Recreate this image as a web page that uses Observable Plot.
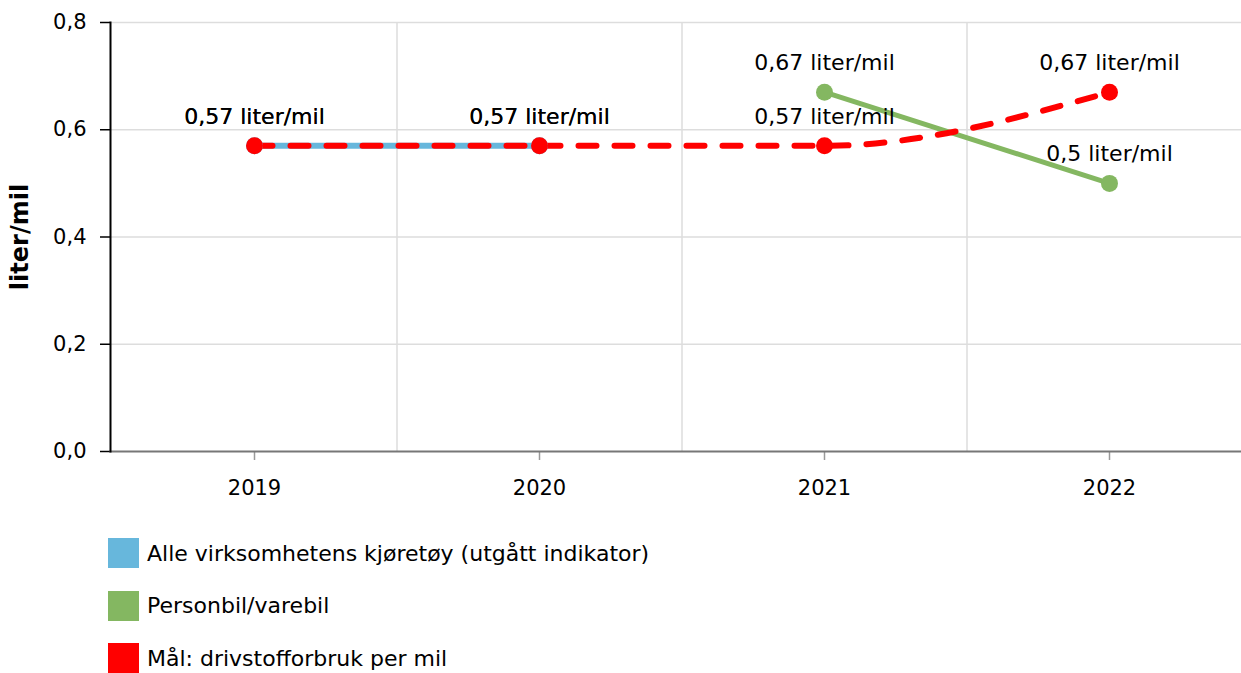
<!DOCTYPE html>
<html><head><meta charset="utf-8">
<script src="https://cdn.jsdelivr.net/npm/d3@7"></script>
<script src="https://cdn.jsdelivr.net/npm/@observablehq/plot@0.6"></script>
<style>
html,body{margin:0;padding:0;background:#fff;font-family:"DejaVu Sans",Verdana,sans-serif;overflow:hidden;}
#legend{margin-left:108px;padding-top:18px;}
.item{display:flex;align-items:center;height:30px;margin-bottom:22.7px;font-size:22px;color:#000;white-space:nowrap}
.sw{width:31px;height:30px;margin-right:8px;flex:none}
g[aria-label="y-axis label"] text{font-weight:bold;font-size:24px;}
</style></head><body>
<div id="chart"></div>
<div id="legend"></div>
<script>
const years = [2019, 2020, 2021, 2022];
const seriesNames = ["Alle virksomhetens kjøretøy (utgått indikator)", "Personbil/varebil", "Mål: drivstofforbruk per mil"];
const colors = ["#67b7dc", "#84b761", "#ff0000"];
const alleValues = [0.57, 0.57, null, null];
const personbilValues = [null, null, 0.67, 0.5];
const malValues = [0.57, 0.57, 0.57, 0.67];
const yTicks = [0, 0.2, 0.4, 0.6, 0.8];
const bandEdges = [2019.5, 2020.5, 2021.5];
const unit = " liter/mil";
const yTitle = "liter/mil";

const rows = (vals, name) => years.map((y, i) => ({year: y, value: vals[i], series: name})).filter(d => d.value != null);
const alle = rows(alleValues, seriesNames[0]);
const personbil = rows(personbilValues, seriesNames[1]);
const mal = rows(malValues, seriesNames[2]);
const fmt = d => String(d.value).replace(".", ",") + unit;

const chart = Plot.plot({
  width: 1241, height: 520,
  marginLeft: 110, marginRight: 0, marginTop: 22, marginBottom: 69,
  style: {fontFamily: "'DejaVu Sans', Verdana, sans-serif", fontSize: "21px", color: "#000", background: "#fff"},
  x: {type: "linear", domain: [2018.5, 2022.5], range: [111.5, 1251.5], axis: null},
  y: {domain: [0, 0.8], axis: null},
  marks: [
    Plot.ruleY(yTicks.slice(1), {stroke: "#dddddd", strokeWidth: 1.5}),
    Plot.ruleX(bandEdges, {stroke: "#dddddd", strokeWidth: 1.5}),
    Plot.axisY({ticks: yTicks, tickFormat: d => d.toFixed(1).replace(".", ","), tickSize: 10, tickPadding: 14, label: yTitle, labelAnchor: "center", labelArrow: "none", labelOffset: 100, stroke: "#000", strokeWidth: 1.5, fill: "#000", fontSize: 21}),
    Plot.axisX({ticks: years, tickFormat: d => String(d), tickSize: 9, tickPadding: 20, label: null, stroke: "#999", strokeWidth: 1.5, fill: "#000", fontSize: 21}),
    Plot.frame({anchor: "bottom", stroke: "#777", strokeWidth: 2}),
    Plot.frame({anchor: "left", stroke: "#000", strokeWidth: 2}),
    Plot.lineY(alle, {x: "year", y: "value", stroke: colors[0], strokeWidth: 6}),
    Plot.lineY(personbil, {x: "year", y: "value", stroke: colors[1], strokeWidth: 5}),
    Plot.lineY(mal, {x: "year", y: "value", stroke: colors[2], strokeWidth: 6, strokeDasharray: "18,18", curve: "monotone-x"}),
    Plot.dot(alle, {x: "year", y: "value", r: 8.5, fill: colors[0]}),
    Plot.dot(personbil, {x: "year", y: "value", r: 8.5, fill: colors[1]}),
    Plot.dot(mal, {x: "year", y: "value", r: 8.5, fill: colors[2]}),
    Plot.text(alle, {x: "year", y: "value", text: fmt, dy: -29, fontSize: 22, fill: "#000"}),
    Plot.text(personbil, {x: "year", y: "value", text: fmt, dy: -29, fontSize: 22, fill: "#000"}),
    Plot.text(mal, {x: "year", y: "value", text: fmt, dy: -29, fontSize: 22, fill: "#000"})
  ]
});
document.getElementById("chart").append(chart);

const legend = document.getElementById("legend");
seriesNames.forEach((name, i) => {
  const item = document.createElement("div");
  item.className = "item";
  const sw = document.createElement("div");
  sw.className = "sw";
  sw.style.background = colors[i];
  const label = document.createElement("span");
  label.textContent = name;
  item.append(sw, label);
  legend.append(item);
});
</script>
</body></html>
